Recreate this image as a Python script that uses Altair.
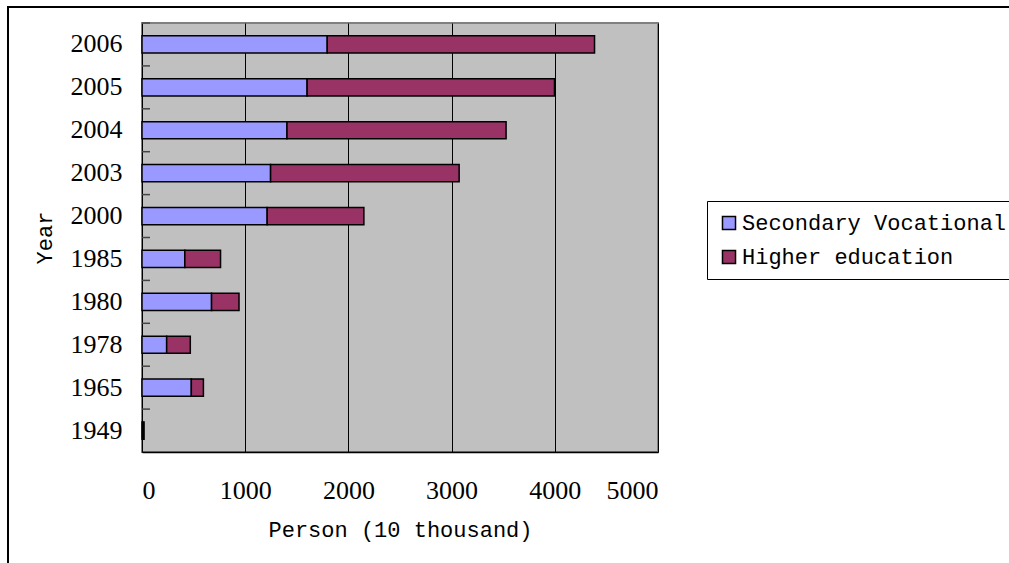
import altair as alt
import pandas as pd

years = ["2006", "2005", "2004", "2003", "2000", "1985", "1980", "1978", "1965", "1949"]
secondary = [1795, 1600, 1405, 1246, 1213, 415, 674, 239, 478, 8]
higher = [2590, 2397, 2123, 1827, 937, 346, 266, 229, 117, 12]
series = ["Secondary Vocational", "Higher education"]
colors = ["#9999FF", "#993366"]
x_ticks = [0, 1000, 2000, 3000, 4000, 5000]

rows = []
for y, s, h in zip(years, secondary, higher):
    rows.append({"Year": y, "Series": series[0], "Value": s, "ord": 0})
    rows.append({"Year": y, "Series": series[1], "Value": h, "ord": 1})
df = pd.DataFrame(rows)
ydf = pd.DataFrame({"Year": years})

MONO = "Liberation Mono"
SERIF = "Liberation Serif"
W, H = 516, 429
STEP = H / len(years)
PAD_OUT = 0.3

yscale = alt.Scale(domain=years, paddingInner=0.6, paddingOuter=PAD_OUT)

bars = alt.Chart(df).mark_bar(stroke="black", strokeWidth=1.5).encode(
    x=alt.X("Value:Q", stack="zero",
            scale=alt.Scale(domain=[0, 5000], nice=False),
            axis=alt.Axis(values=x_ticks, title="Person (10 thousand)", grid=True,
                          gridColor="black", gridWidth=1, gridOpacity=1,
                          domainColor="black", domainWidth=1.5, ticks=False,
                          labelPadding=25, labelFont=SERIF, labelFontSize=26,
                          labelColor="black", titleFont=MONO, titleFontSize=22,
                          titleFontWeight="normal", titleColor="black",
                          titlePadding=16, format="d")),
    y=alt.Y("Year:N", sort=years, scale=yscale,
            axis=alt.Axis(title="Year", orient="left", ticks=False, domain=False,
                          labelPadding=20, labelFont=SERIF, labelFontSize=26,
                          labelColor="black", titleFont=MONO, titleFontSize=22,
                          titleFontWeight="normal", titleColor="black",
                          titlePadding=14)),
    color=alt.Color("Series:N", scale=alt.Scale(domain=series, range=colors),
                    legend=alt.Legend(title=None, orient="none", legendX=565,
                                      legendY=178, symbolType="square",
                                      symbolSize=170, symbolStrokeColor="black",
                                      symbolStrokeWidth=1.5, symbolOpacity=1,
                                      labelFont=MONO, labelFontSize=22,
                                      labelColor="black", labelLimit=400,
                                      rowPadding=12, padding=11,
                                      strokeColor="black", fillColor="white",
                                      symbolOffset=0, labelOffset=2)),
    order=alt.Order("ord:Q"),
)

ticks_layer = alt.Chart(ydf).mark_rule(color="#444444", strokeWidth=1.5).encode(
    y=alt.Y("Year:N", sort=years, scale=yscale),
    x=alt.value(0), x2=alt.value(8),
    yOffset=alt.value(-PAD_OUT * STEP),
)

frame = alt.Chart(alt.Data(values=[{"a": 1}])).mark_rect(
    fill="transparent", stroke="black", strokeWidth=2
).encode(
    x=alt.value(-134), x2=alt.value(1009 - 142 + 10),
    y=alt.value(-16), y2=alt.value(563 - 23 + 10),
)

chart = alt.layer(bars, ticks_layer, frame).properties(
    width=W, height=H,
    autosize=alt.AutoSizeParams(type="none"),
    padding={"left": 142, "top": 23, "right": 1009 - 142 - W, "bottom": 563 - 23 - H},
    background="white",
).configure_view(
    fill="#C0C0C0", stroke="#808080", strokeWidth=2
)

chart.save("out.html", embed_options={"renderer": "svg", "actions": False})
